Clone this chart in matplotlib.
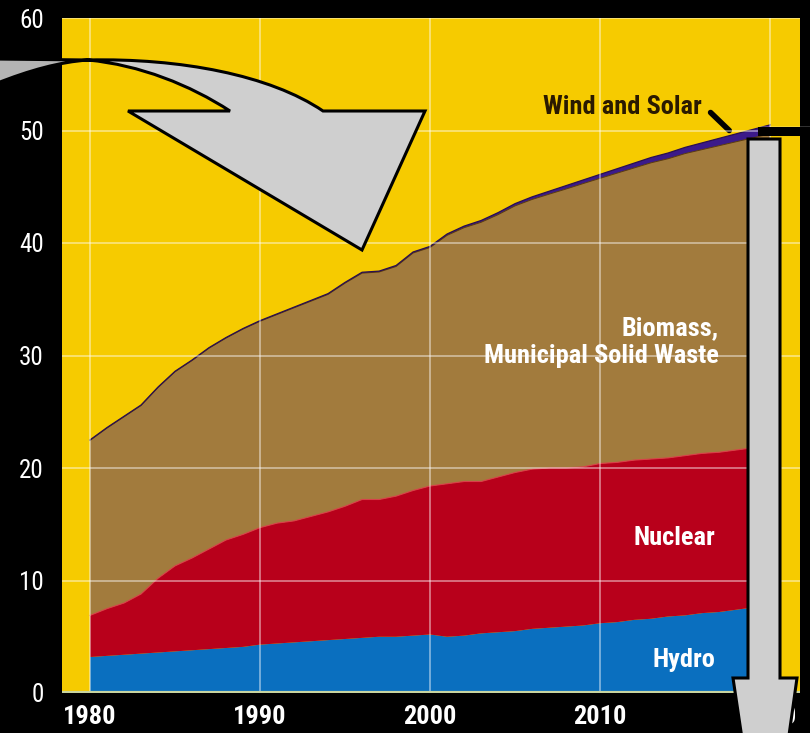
import numpy as np
import matplotlib.pyplot as plt
from matplotlib.path import Path
from matplotlib.patches import PathPatch, Rectangle

# energy consumption by renewable/non-fossil source, stacked
years = np.arange(1980, 2021)
hydro = [3.2, 3.3, 3.4, 3.5, 3.6, 3.7, 3.8, 3.9, 4.0, 4.1,
         4.3, 4.4, 4.5, 4.6, 4.7, 4.8, 4.9, 5.0, 5.0, 5.1,
         5.2, 5.0, 5.1, 5.3, 5.4, 5.5, 5.7, 5.8, 5.9, 6.0,
         6.2, 6.3, 6.5, 6.6, 6.8, 6.9, 7.1, 7.2, 7.4, 7.6, 7.7]
nuclear_top = [6.9, 7.5, 8.0, 8.8, 10.2, 11.3, 12.0, 12.8, 13.6, 14.1,
               14.7, 15.1, 15.3, 15.7, 16.1, 16.6, 17.2, 17.2, 17.5, 18.0,
               18.4, 18.6, 18.8, 18.8, 19.2, 19.6, 19.9, 20.0, 20.0, 20.1,
               20.4, 20.5, 20.7, 20.8, 20.9, 21.1, 21.3, 21.4, 21.6, 21.8, 21.9]
total = [22.5, 23.6, 24.6, 25.6, 27.2, 28.6, 29.6, 30.7, 31.6, 32.4,
         33.1, 33.7, 34.3, 34.9, 35.5, 36.5, 37.4, 37.5, 38.0, 39.2,
         39.7, 40.8, 41.5, 42.0, 42.7, 43.5, 44.1, 44.6, 45.1, 45.6,
         46.1, 46.6, 47.1, 47.6, 48.0, 48.5, 48.9, 49.3, 49.7, 50.1, 50.5]
wind_solar = [0.05, 0.05, 0.05, 0.05, 0.05, 0.05, 0.05, 0.05, 0.05, 0.05,
              0.06, 0.06, 0.06, 0.07, 0.07, 0.07, 0.08, 0.08, 0.09, 0.09,
              0.10, 0.12, 0.14, 0.16, 0.18, 0.20, 0.23, 0.26, 0.30, 0.32,
              0.35, 0.39, 0.43, 0.47, 0.51, 0.55, 0.60, 0.65, 0.70, 0.75, 0.80]

hydro = np.array(hydro)
nuclear = np.array(nuclear_top) - hydro
wind_solar = np.array(wind_solar)
biomass = np.array(total) - np.array(nuclear_top) - wind_solar

labels = ['Hydro', 'Nuclear', 'Biomass,\nMunicipal Solid Waste', 'Wind and Solar']
colors = ['#0a6fbf', '#b8001b', '#a27b3d', '#3b1a8a']
yticks = [0, 10, 20, 30, 40, 50, 60]
xticks = [1980, 1990, 2000, 2010, 2020]

plt.rcParams['font.family'] = ['Roboto Condensed', 'DejaVu Sans']

W, H = 810, 733
fig = plt.figure(figsize=(8.1, 7.33), dpi=100, facecolor='black')
ax = fig.add_axes([62 / W, 1 - 693 / H, 738 / W, 675 / H])
ax.set_facecolor('#f6cb00')

ax.stackplot(years, hydro, nuclear, biomass, wind_solar, colors=colors, lw=0)
ax.plot(years, nuclear_top, color='#d8404a', lw=0.8)
ax.plot(years, np.array(total) - wind_solar, color='#5a3a10', lw=0.7)
ax.plot(years, total, color='#2a0f50', lw=0.9)

ax.set_xlim(1978.35, 2021.76)
ax.set_ylim(0, 60)
ax.set_xticks(xticks)
ax.set_yticks(yticks)
ax.grid(True, color='white', alpha=0.55, lw=1.1)
ax.set_axisbelow(False)
ax.axhline(0, color='#c8d4a0', lw=3, zorder=4)
for s in ax.spines.values():
    s.set_visible(False)
ax.tick_params(length=0, colors='white')
ax.tick_params(axis='x', labelsize=19, pad=9)
ax.tick_params(axis='y', labelsize=18, pad=13)
for t in ax.get_xticklabels():
    t.set_fontweight('bold')

txt = dict(color='white', fontsize=19, fontweight='bold', ha='right', va='center')
ax.text(2016.8, 2.9, labels[0], **txt)
ax.text(2016.8, 13.8, labels[1], **txt)
ax.text(2017.0, 31.2, labels[2], linespacing=1.2, **txt)
ax.text(2016.0, 52.1, labels[3], color='#2a1a00', fontsize=19,
        fontweight='bold', ha='right', va='center')
ax.plot([2016.5, 2017.6], [51.6, 50.0], color='black', lw=4, solid_capstyle='round')


def px(x, y):
    return (x / W, 1 - y / H)


def shape(verts, codes, fc, zorder=10):
    path = Path([px(*v) for v in verts], codes)
    fig.patches.append(PathPatch(path, transform=fig.transFigure, fc=fc,
                                 ec='black', lw=2.2, zorder=zorder))


M, L, C, Z = Path.MOVETO, Path.LINETO, Path.CURVE4, Path.CLOSEPOLY

# curved pointer, twisted tail on the left
shape([(88, 60), (-5, 59), (-5, 84), (30, 70), (60, 62), (88, 60), (88, 60)],
      [M, L, L, C, C, C, Z], '#b4b4b4')
shape([(88, 60), (180, 58), (270, 75), (323, 111), (425, 111), (362, 250),
       (128, 111), (230, 111), (190, 85), (140, 65), (88, 60), (88, 60)],
      [M, C, C, C, L, L, L, L, C, C, C, Z], '#cfcfcf')

# straight pointer on the right
fig.patches.append(Rectangle(px(758, 136), 60 / W, 9 / H, transform=fig.transFigure,
                             fc='black', ec='none', zorder=9))
fig.lines.append(plt.Line2D([760 / W, 1], [1 - 127 / H] * 2, transform=fig.transFigure,
                            color='white', lw=1, zorder=9))
shape([(748, 139), (780, 139), (780, 678), (797, 678), (766, 900), (733, 678),
       (748, 678), (748, 139)], [M, L, L, L, L, L, L, Z], '#cfcfcf')

fig.savefig('out.png', dpi=100, facecolor='black')
